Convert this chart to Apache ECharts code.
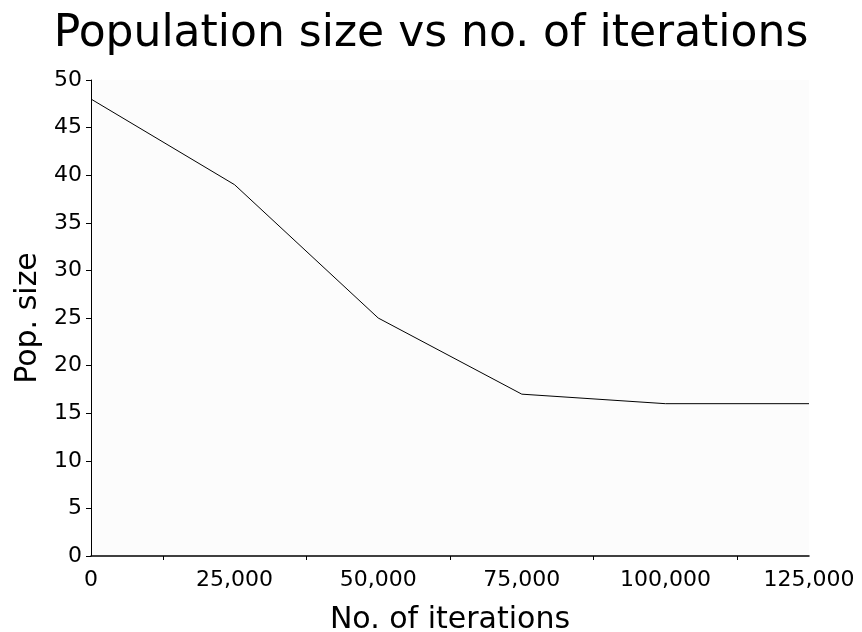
<!DOCTYPE html>
<html>
<head>
<meta charset="utf-8">
<title>Population size vs no. of iterations</title>
<script src="https://cdn.jsdelivr.net/npm/echarts@6/dist/echarts.min.js"></script>
<style>
  html, body { margin: 0; padding: 0; background: #ffffff; }
  #chart { width: 862px; height: 632px; }
</style>
</head>
<body>
<div id="chart"></div>
<script>
// Iteration counts and the population size reached at each
const iterations = [0, 25000, 50000, 75000, 100000, 125000];
const popSize = [48, 39, 25, 17, 16, 16];

// Axis ranges and ticks
const xTickLabels = [0, 25000, 50000, 75000, 100000, 125000];
const xMinorTicks = [12500, 37500, 62500, 87500, 112500];
const yMin = 0, yMax = 50, yStep = 5;

const FONT = 'DejaVu Sans';

const chart = echarts.init(document.getElementById('chart'), null, { renderer: 'canvas' });

chart.setOption({
  backgroundColor: '#ffffff',
  animation: false,
  title: {
    text: 'Population size vs no. of iterations',
    left: 'center',
    top: 8,
    textStyle: { fontFamily: FONT, fontSize: 44, fontWeight: 'normal', color: '#000' }
  },
  grid: {
    left: 91, right: 53, top: 80, bottom: 76,
    outerBoundsMode: 'none',
    containLabel: false,
    show: true,
    backgroundColor: '#fcfcfc',
    borderWidth: 0
  },
  xAxis: {
    type: 'value',
    min: xTickLabels[0],
    max: xTickLabels[xTickLabels.length - 1],
    interval: 25000,
    name: 'No. of iterations',
    nameLocation: 'middle',
    nameGap: 49,
    nameTextStyle: { fontFamily: FONT, fontSize: 30, color: '#000' },
    axisLine: { show: true, lineStyle: { color: '#000', width: 1.5 } },
    axisTick: {
      show: true,
      customValues: xMinorTicks,
      length: 4,
      lineStyle: { color: '#000', width: 1 }
    },
    axisLabel: {
      customValues: xTickLabels,
      fontFamily: FONT,
      fontSize: 22,
      color: '#000',
      margin: 13,
      formatter: v => v.toLocaleString('en-US')
    },
    splitLine: { show: false }
  },
  yAxis: {
    type: 'value',
    min: yMin,
    max: yMax,
    interval: yStep,
    name: 'Pop. size',
    nameLocation: 'middle',
    nameGap: 46,
    nameTextStyle: { fontFamily: FONT, fontSize: 30, color: '#000' },
    axisLine: { show: true, lineStyle: { color: '#000', width: 1 } },
    axisTick: { show: true, length: 5, lineStyle: { color: '#000', width: 1 } },
    axisLabel: { fontFamily: FONT, fontSize: 22, color: '#000', margin: 9 },
    splitLine: { show: false }
  },
  series: [{
    type: 'line',
    data: iterations.map((x, i) => [x, popSize[i]]),
    symbol: 'none',
    lineStyle: { color: '#000', width: 1 }
  }]
});
</script>
</body>
</html>
